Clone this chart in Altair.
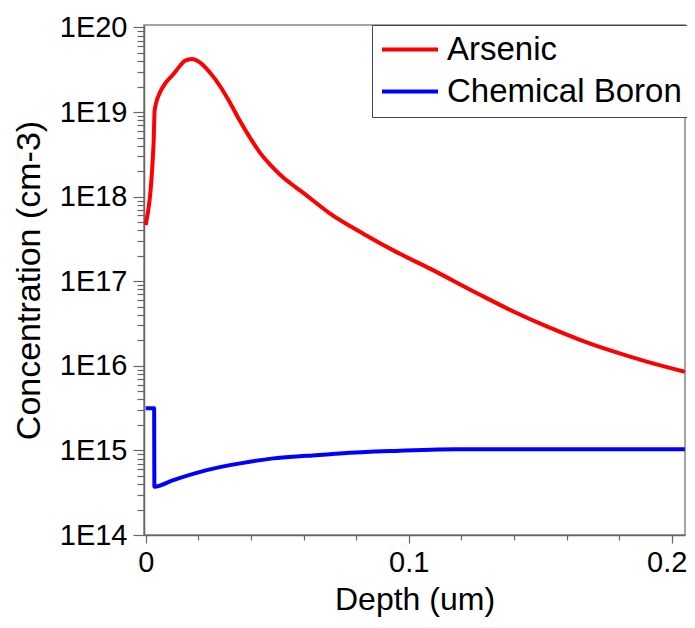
import altair as alt
import pandas as pd

# Arsenic profile (depth in um, concentration in cm-3)
as_depth = [0.0, 0.0030, 0.0034, 0.0054, 0.0073, 0.0105, 0.0130, 0.0149, 0.0175,
            0.0207, 0.0245, 0.0283, 0.0321, 0.0359, 0.0397, 0.0435, 0.0473, 0.0511,
            0.0549, 0.0599, 0.0701, 0.0827, 0.0954, 0.1081, 0.1271, 0.1398, 0.1525,
            0.1651, 0.1778, 0.1905, 0.2050]
as_conc = [4.6e17, 4.3e18, 1.05e19, 1.7e19, 2.15e19, 2.8e19, 3.5e19, 4.05e19, 4.25e19,
           3.85e19, 2.91e19, 2.02e19, 1.28e19, 7.78e18, 4.95e18, 3.29e18, 2.39e18, 1.82e18,
           1.45e18, 1.11e18, 6.3e17, 3.65e17, 2.21e17, 1.41e17, 6.92e16, 4.39e16, 2.92e16,
           2.03e16, 1.48e16, 1.12e16, 8.5e15]

# Chemical Boron profile
b_depth = [0.0, 0.0032, 0.0033, 0.0105, 0.0232, 0.0359, 0.0485, 0.0612, 0.0739,
           0.0929, 0.1183, 0.2050]
b_conc = [3.15e15, 3.15e15, 3.72e14, 4.46e14, 5.85e14, 7.03e14, 8.05e14, 8.63e14,
          9.22e14, 9.82e14, 1.03e15, 1.03e15]

series_names = ["Arsenic", "Chemical Boron"]
series_colors = ["#ff0000", "#0000ff"]

x_ticks = [round(i * 0.02, 2) for i in range(11)]
y_ticks = [m * 10.0 ** e for e in range(14, 20) for m in range(1, 10)] + [1e20]

rows = []
for i, (d, c) in enumerate(zip(as_depth, as_conc)):
    rows.append({"depth": d, "conc": c, "series": series_names[0], "idx": i})
for i, (d, c) in enumerate(zip(b_depth, b_conc)):
    rows.append({"depth": d, "conc": c, "series": series_names[1], "idx": i})
df = pd.DataFrame(rows)

FONT = "Liberation Sans"
decade_test = "abs(log(datum.value)/LN10 - round(log(datum.value)/LN10)) < 0.01"
tenth_test = "abs(datum.value*10 - round(datum.value*10)) < 0.001"

chart = alt.Chart(df).mark_line(strokeWidth=4, clip=True, interpolate="monotone").encode(
    x=alt.X(
        "depth:Q",
        scale=alt.Scale(domain=[-0.00065, 0.20505], nice=False, zero=False),
        axis=alt.Axis(
            values=x_ticks,
            labelExpr=f"{tenth_test} ? format(datum.value, '~g') : ''",
            title="Depth (um)",
            tickSize={"condition": {"test": tenth_test, "value": 8}, "value": 5},
            labelOffset={"condition": {"test": "datum.value > 0.19", "value": -5}, "value": 0},
            labelOverlap=False,
            labelFlush=False,
            labelPadding=5,
            titlePadding=7,
            titleFontSize=32,
        ),
    ),
    y=alt.Y(
        "conc:Q",
        scale=alt.Scale(type="log", domain=[1e14, 1.07e20], nice=False),
        axis=alt.Axis(
            values=y_ticks,
            labelExpr=f"{decade_test} ? '1E' + round(log(datum.value)/LN10) : ''",
            title="Concentration (cm-3)",
            tickSize={"condition": {"test": decade_test, "value": 11}, "value": 7},
            labelOverlap=False,
            labelFlush=False,
            labelPadding=6,
            titlePadding=13,
            titleFontSize=34,
        ),
    ),
    color=alt.Color(
        "series:N",
        scale=alt.Scale(domain=series_names, range=series_colors),
        legend=alt.Legend(
            title=None,
            orient="none",
            legendX=228,
            legendY=0,
            direction="vertical",
            symbolType="stroke",
            symbolSize=3136,
            symbolStrokeWidth=4,
            clipHeight=33,
            labelFontSize=33,
            labelFont=FONT,
            labelColor="black",
            labelLimit=400,
            labelOffset=7,
            strokeColor="#444444",
            fillColor="white",
            padding=8,
            rowPadding=8,
            cornerRadius=0,
        ),
    ),
    order="idx:Q",
).properties(
    width=541,
    height=510,
    autosize=alt.AutoSizeParams(type="none"),
    padding={"left": 136, "top": 17, "right": 2, "bottom": 85},
).configure_view(
    stroke="#888888", strokeWidth=1.5
).configure_axis(
    grid=False,
    domainColor="#666666",
    domainWidth=1.5,
    tickColor="#666666",
    tickWidth=1.2,
    labelFont=FONT,
    labelFontSize=29,
    labelColor="black",
    titleFont=FONT,
    titleFontSize=33,
    titleFontWeight="normal",
    titleColor="black",
)

chart.save("out.html", embed_options={"renderer": "svg", "actions": False})
